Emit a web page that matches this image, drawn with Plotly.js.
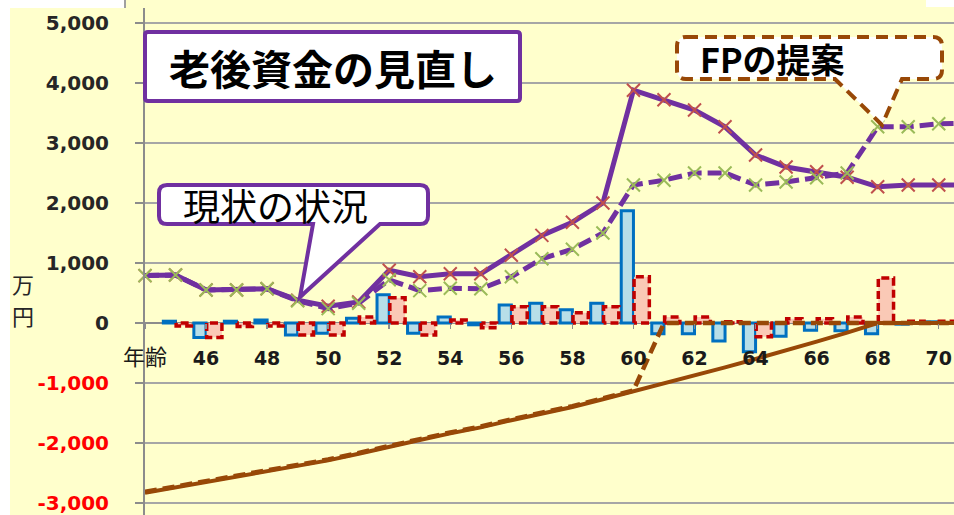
<!DOCTYPE html>
<html><head><meta charset="utf-8">
<script src="https://cdn.plot.ly/plotly-3.0.1.min.js"></script>
<style>html,body{margin:0;padding:0;background:#fff;} #chart{width:954px;height:515px;}</style>
</head><body><div id="chart"></div>
<script>
// ---- data ----
const ages = [44,45,46,47,48,49,50,51,52,53,54,55,56,57,58,59,60,61,62,63,64,65,66,67,68,69,70,71];
const tickVals = [44,46,48,50,52,54,56,58,60,62,64,66,68,70];
const tickLabels = ['年齢','46','48','50','52','54','56','58','60','62','64','66','68','70'];
const yTickVals = [-3000,-2000,-1000,0,1000,2000,3000,4000,5000];
const yTickLabels = ['-3,000','-2,000','-1,000','0','1,000','2,000','3,000','4,000','5,000'];

// 現状: 貯蓄残高 (purple solid), 提案: 貯蓄残高 (purple dashed)
const balanceCurrent  = [790,800,550,550,570,380,280,350,880,770,820,820,1130,1460,1680,2000,3880,3720,3550,3270,2800,2600,2520,2430,2270,2300,2300,2300];
const balanceProposal = [790,800,550,550,570,370,240,330,720,540,580,570,770,1070,1230,1500,2300,2380,2500,2500,2300,2350,2420,2500,3270,3270,3320,3330];
// ローン残高 (brown solid current, brown dashed proposal)
const loanCurrent  = [-2830,-2740,-2650,-2570,-2480,-2390,-2290,-2180,-2060,-1950,-1840,-1740,-1620,-1510,-1400,-1270,-1140,-1010,-880,-740,-600,-460,-310,-160,0,0,0,0];
const loanProposal = [-2815,-2725,-2635,-2555,-2465,-2375,-2275,-2165,-2045,-1935,-1825,-1725,-1605,-1495,-1385,-1255,-1125,0,0,0,0,0,0,0,0,0,0,0];
// 年間収支 (blue current, red proposal)
const cashCurrent  = [0,30,-240,30,50,-200,-170,80,470,-170,100,-30,300,330,220,330,1870,-180,-180,-300,-480,-220,-120,-130,-180,-20,20,0];
const cashProposal = [0,-50,-240,-60,-50,-200,-200,100,420,-200,50,-80,270,270,170,270,770,100,100,20,-230,70,70,100,750,30,30,0];

// ---- geometry helpers (pixel -> paper) ----
const W=954,H=515,L=145,R=0,T=8,B=0;
const PW=W-L-R, PH=H-T-B;
const xp = p => (p-L)/PW;
const yp = p => (H-B-p)/PH;
const P = (x,y) => xp(x)+','+yp(y);

function callout(x0,y0,x1,y1,r,ptr){
  let s = 'M'+P(x0+r,y0)+' L'+P(x1-r,y0)+' Q'+P(x1,y0)+' '+P(x1,y0+r)+
          ' L'+P(x1,y1-r)+' Q'+P(x1,y1)+' '+P(x1-r,y1);
  if(ptr){ s += ' L'+P(ptr[0],y1)+' L'+P(ptr[1],ptr[2])+' L'+P(ptr[3],y1); }
  s += ' L'+P(x0+r,y1)+' Q'+P(x0,y1)+' '+P(x0,y1-r)+' L'+P(x0,y0+r)+' Q'+P(x0,y0)+' '+P(x0+r,y0)+' Z';
  return s;
}

// red dashed outline built from proposal bar values
const rOff = 0.02, rW = 0.5;
const outX = [], outY = [];
ages.forEach((a,i)=>{
  const v = cashProposal[i];
  if(!v) return;
  const x0=a+rOff, x1=a+rOff+rW;
  outX.push(x0,x0,x1,x1,x0,null);
  outY.push(0,v,v,0,0,null);
});

const traces = [
  {type:'bar', x:ages, y:cashCurrent, offset:-0.4, width:0.4,
   marker:{color:'#B7DEE8', line:{color:'#0070C0', width:3}}, hoverinfo:'skip'},
  {type:'bar', x:ages, y:cashProposal, offset:rOff, width:rW,
   marker:{color:'#FAC9B6', line:{width:0}}, hoverinfo:'skip'},
  {type:'scatter', mode:'lines', x:outX, y:outY, connectgaps:false,
   line:{color:'#C00000', width:3.5, dash:'8px,4px'}, hoverinfo:'skip'},
  {type:'scatter', mode:'lines', x:ages, y:loanCurrent,
   line:{color:'#984807', width:4}},
  {type:'scatter', mode:'lines', x:ages, y:loanProposal,
   line:{color:'#984807', width:4.5, dash:'12px,6px'}},
  {type:'scatter', mode:'lines+markers', x:ages, y:balanceCurrent, cliponaxis:false,
   line:{color:'#7030A0', width:5},
   marker:{symbol:'x-thin', size:13, line:{color:'#C0504D', width:2}}},
  {type:'scatter', mode:'lines+markers', x:ages, y:balanceProposal, cliponaxis:false,
   line:{color:'#7030A0', width:5, dash:'14px,6px'},
   marker:{symbol:'x-thin', size:13, line:{color:'#9BBB59', width:2}}}
];

const yMin=-3200, yMax=5250;
const yText = yTickLabels.map((t,i)=> yTickVals[i]<0 ? '<span style="fill:#FF0000">'+t+'</span>' : t);
const xText = tickLabels.map((t,i)=> i===0 ? '<span style="font-size:22px;font-weight:normal">'+t+'</span>' : t);

const layout = {
  width:W, height:H,
  margin:{l:L, r:R, t:T, b:B, pad:0},
  paper_bgcolor:'#FFFFCC', plot_bgcolor:'#FFFFCC',
  showlegend:false, barmode:'overlay',
  font:{family:'DejaVu Sans, Noto Sans CJK JP', color:'#262626'},
  xaxis:{range:[44,70.5], tickmode:'array', tickvals:tickVals, ticktext:xText,
    anchor:'free', position:(0-yMin)/(yMax-yMin),
    showgrid:false, zeroline:false, showline:false,
    ticks:'outside', ticklen:5, tickwidth:1.5, tickcolor:'#8C8C8C',
    ticklabelstandoff:13,
    tickfont:{family:'DejaVu Sans, Noto Sans CJK JP', size:19, color:'#1a1a1a', weight:'bold'}},
  yaxis:{range:[yMin,yMax], tickmode:'array', tickvals:yTickVals, ticktext:yText,
    showgrid:true, gridcolor:'#A6A6A6', gridwidth:2,
    zeroline:true, zerolinecolor:'#8C8C8C', zerolinewidth:2,
    showline:true, linecolor:'#8C8C8C', linewidth:2,
    ticks:'outside', ticklen:8, tickwidth:1.5, tickcolor:'#8C8C8C',
    ticklabelstandoff:22,
    tickfont:{family:'DejaVu Sans', size:20, color:'#262626', weight:'bold'}},
  shapes:[
    {type:'rect', xref:'paper', yref:'paper', x0:xp(0), x1:xp(10), y0:yp(515), y1:yp(0), fillcolor:'#FFFFFF', line:{width:0}, layer:'below'},
    {type:'rect', xref:'paper', yref:'paper', x0:xp(0), x1:xp(125), y0:yp(8), y1:yp(0), fillcolor:'#FFFFFF', line:{width:0}, layer:'below'},
    {type:'line', xref:'paper', yref:'paper', x0:xp(125), x1:xp(125), y0:yp(8), y1:yp(0), line:{color:'#A0A0A0', width:2}, layer:'below'},
    {type:'rect', xref:'paper', yref:'paper', x0:xp(926), x1:xp(954), y0:yp(7), y1:yp(0), fillcolor:'#FFFFFF', line:{width:0}, layer:'below'},
    {type:'path', xref:'paper', yref:'paper', path:callout(145,32,520,101,3,null),
     fillcolor:'#FFFFFF', line:{color:'#7030A0', width:4}, layer:'above'},
    {type:'path', xref:'paper', yref:'paper', path:callout(159,185,428,224,8,[380,300,297,313]),
     fillcolor:'#FFFFFF', line:{color:'#7030A0', width:4}, layer:'above'},
    {type:'path', xref:'paper', yref:'paper', path:callout(677,37,942,79,9,[902,882,125,835]),
     fillcolor:'#FFFFFF', line:{color:'#984807', width:4, dash:'12px,7px'}, layer:'above'}
  ],
  annotations:[
    {xref:'paper', yref:'paper', x:xp(333), y:yp(67), text:'<b>老後資金の見直し</b>', showarrow:false,
     xanchor:'center', yanchor:'middle', font:{family:'Noto Sans CJK JP', size:41, color:'#000'}},
    {xref:'paper', yref:'paper', x:xp(275), y:yp(205), text:'現状の状況', showarrow:false,
     xanchor:'center', yanchor:'middle', font:{family:'Noto Sans CJK JP', size:37, color:'#000'}},
    {xref:'paper', yref:'paper', x:xp(772), y:yp(59), text:'<b>FPの提案</b>', showarrow:false,
     xanchor:'center', yanchor:'middle', font:{family:'Noto Sans CJK JP', size:34, color:'#000'}},
    {xref:'paper', yref:'paper', x:xp(23), y:yp(283), text:'万', showarrow:false,
     xanchor:'center', yanchor:'middle', font:{family:'Noto Sans CJK JP', size:22, color:'#262626'}},
    {xref:'paper', yref:'paper', x:xp(23), y:yp(315), text:'円', showarrow:false,
     xanchor:'center', yanchor:'middle', font:{family:'Noto Sans CJK JP', size:22, color:'#262626'}}
  ]
};

Plotly.newPlot('chart', traces, layout, {displayModeBar:false, staticPlot:true});
</script>
</body></html>
